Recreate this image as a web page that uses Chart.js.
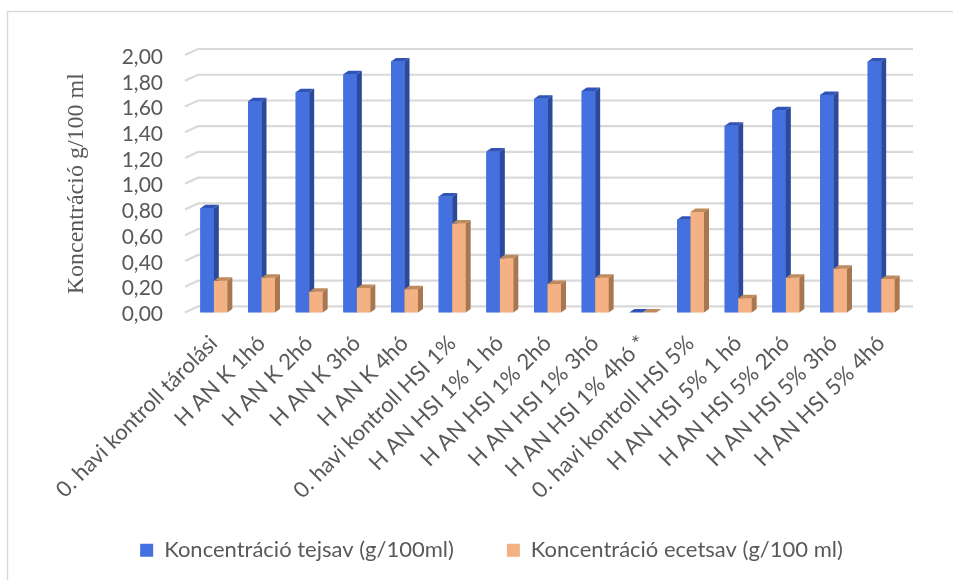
<!DOCTYPE html>
<html>
<head>
<meta charset="utf-8">
<script src="https://cdn.jsdelivr.net/npm/chart.js@4/dist/chart.umd.min.js"></script>
<style>
  html, body { margin: 0; padding: 0; background: #ffffff; }
  #wrap { width: 953px; height: 580px; }
</style>
</head>
<body>
<div id="wrap"><canvas id="chart" width="953" height="580"></canvas></div>
<script>
// Minták (tárolási idő szerint)
const categories = [
  "0. havi kontroll tárolási",
  "H AN K 1hó",
  "H AN K 2hó",
  "H AN K 3hó",
  "H AN K 4hó",
  "0. havi kontroll HSI 1%",
  "H AN HSI 1% 1 hó",
  "H AN HSI 1% 2hó",
  "H AN HSI 1% 3hó",
  "H AN HSI 1% 4hó *",
  "0. havi kontroll HSI 5%",
  "H AN HSI 5% 1 hó",
  "H AN HSI 5% 2hó",
  "H AN HSI 5% 3hó",
  "H AN HSI 5% 4hó"
];

// Tejsav koncentráció (g/100 ml)
const tejsav = [0.81, 1.64, 1.71, 1.85, 1.95, 0.90, 1.25, 1.66, 1.72, 0.00, 0.72, 1.45, 1.57, 1.69, 1.95];

// Ecetsav koncentráció (g/100 ml)
const ecetsav = [0.245, 0.27, 0.16, 0.19, 0.18, 0.69, 0.42, 0.22, 0.27, 0.00, 0.78, 0.11, 0.27, 0.34, 0.26];

const seriesNames = ["Koncentráció tejsav (g/100ml)", "Koncentráció ecetsav (g/100 ml)"];
const yTickLabels = ["0,00", "0,20", "0,40", "0,60", "0,80", "1,00", "1,20", "1,40", "1,60", "1,80", "2,00"];
const yTitle = "Koncentráció g/100 ml";

// Face colours for the pseudo-3D columns: front, side, top
const faces = [
  { front: "#4470E0", side: "#2B4A9C", top: "#3053B8" },
  { front: "#F4B183", side: "#A8774F", top: "#BE8A5E" }
];
const GRID = "#d9d9d9";
const TEXT = "#595959";
const DEPTH_X = 5, DEPTH_Y = 3.5;      // column depth
const WALL_X = 8, WALL_Y = 6;          // back wall offset
const FLOOR_X = 5;                     // front edge of the floor

// Outer frame of the chart; long rotated category labels may run below the axis box
const framePlugin = {
  id: "frame",
  beforeDraw(chart) {
    const xs = chart.scales.x;
    if (xs) xs._computeLabelArea = () => undefined;
    const c = chart.ctx;
    c.save();
    c.fillStyle = "#ffffff";
    c.fillRect(0, 0, chart.width, chart.height);
    c.strokeStyle = GRID;
    c.lineWidth = 1.5;
    c.strokeRect(7.5, 11.5, chart.width + 20, chart.height + 20);
    c.restore();
  }
};

// Gridlines on the floor edge and back wall
const wallPlugin = {
  id: "wall",
  beforeDatasetsDraw(chart) {
    const c = chart.ctx, a = chart.chartArea, ys = chart.scales.y;
    c.save();
    c.strokeStyle = GRID;
    c.lineWidth = 2.2;
    ys.ticks.forEach(t => {
      const y = ys.getPixelForValue(t.value);
      c.beginPath();
      c.moveTo(a.left - FLOOR_X, y);
      c.lineTo(a.left + WALL_X, y - WALL_Y);
      c.lineTo(a.right + WALL_X, y - WALL_Y);
      c.stroke();
    });
    c.restore();
  }
};

// Side and top faces of each column, drawn from the bar elements
const columnPlugin = {
  id: "columns",
  afterDatasetsDraw(chart) {
    const c = chart.ctx;
    const metas = chart.data.datasets.map((_, i) => chart.getDatasetMeta(i));
    const n = chart.data.labels.length;
    c.save();
    for (let i = 0; i < n; i++) {
      metas.forEach((meta, d) => {
        const el = meta.data[i];
        if (!el) return;
        const p = el.getProps(["x", "y", "base", "width"], true);
        const l = p.x - p.width / 2, r = p.x + p.width / 2;
        const top = Math.min(p.y, p.base), bot = Math.max(p.y, p.base);
        const f = faces[d];
        c.fillStyle = f.front;
        c.fillRect(l, top, p.width, bot - top);
        c.fillStyle = f.side;
        c.beginPath();
        c.moveTo(r, top); c.lineTo(r + DEPTH_X, top - DEPTH_Y);
        c.lineTo(r + DEPTH_X, bot - DEPTH_Y); c.lineTo(r, bot);
        c.closePath(); c.fill();
        c.fillStyle = f.top;
        c.beginPath();
        c.moveTo(l, top); c.lineTo(l + DEPTH_X, top - DEPTH_Y);
        c.lineTo(r + DEPTH_X, top - DEPTH_Y); c.lineTo(r, top);
        c.closePath(); c.fill();
      });
    }
    c.restore();
  }
};

new Chart(document.getElementById("chart"), {
  type: "bar",
  data: {
    labels: categories,
    datasets: [
      { label: seriesNames[0], data: tejsav, backgroundColor: faces[0].front, borderWidth: 0 },
      { label: seriesNames[1], data: ecetsav, backgroundColor: faces[1].front, borderWidth: 0 }
    ]
  },
  options: {
    responsive: false,
    animation: false,
    events: [],
    datasets: { bar: { categoryPercentage: 0.566, barPercentage: 1.0 } },
    layout: { padding: { left: 78, right: 48, top: 55, bottom: 8.8 } },
    plugins: {
      tooltip: { enabled: false },
      legend: {
        position: "bottom",
        labels: {
          color: TEXT,
          font: { family: "Lato", size: 22 },
          boxWidth: 13,
          boxHeight: 13,
          padding: 53
        }
      }
    },
    scales: {
      x: {
        grid: { display: false, drawTicks: false },
        border: { display: false },
        ticks: {
          color: TEXT,
          font: { family: "Lato", size: 22 },
          minRotation: 45,
          maxRotation: 45,
          autoSkip: false,
          padding: 18
        },
        afterFit(scale) { scale.height = 173.8; }
      },
      y: {
        min: 0,
        max: 2,
        grid: { display: false, drawTicks: false },
        border: { display: false },
        ticks: {
          stepSize: 0.2,
          autoSkip: false,
          color: TEXT,
          padding: 27,
          labelOffset: 2,
          font: { family: "Lato", size: 21 },
          callback: (v, i) => yTickLabels[i]
        },
        title: {
          display: true,
          text: yTitle,
          color: TEXT,
          font: { family: "Liberation Serif", size: 24 },
          padding: { top: -15.4, bottom: 0 }
        },
        afterFit(scale) { scale.width = 112; }
      }
    }
  },
  plugins: [framePlugin, wallPlugin, columnPlugin]
});
</script>
</body>
</html>
